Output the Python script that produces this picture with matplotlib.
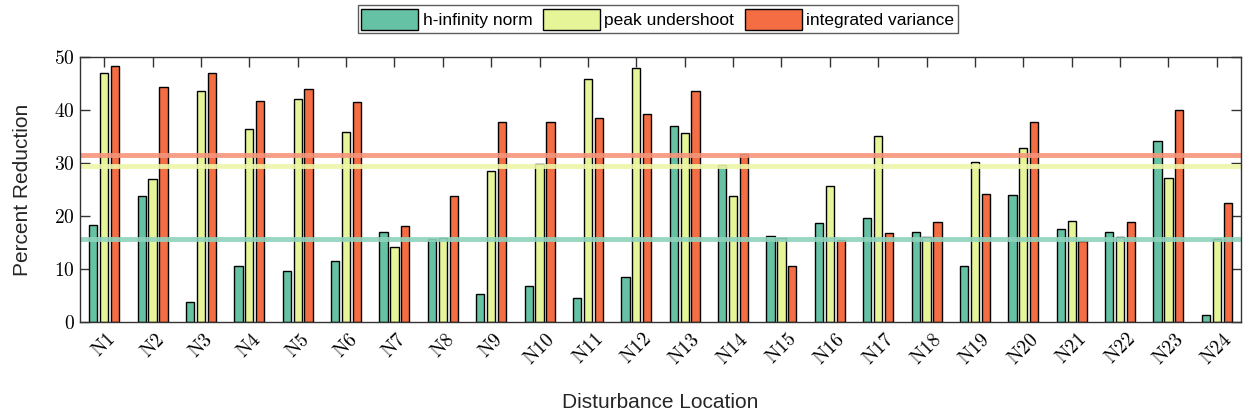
import numpy as np
import matplotlib
matplotlib.use("Agg")
import matplotlib.pyplot as plt
from matplotlib.ticker import FuncFormatter

plt.rcParams["font.family"] = ["Liberation Sans", "DejaVu Sans"]
plt.rcParams["mathtext.fontset"] = "cm"

# ── Data ─────────────────────────────────────────────────────
locations = [f"N{i}" for i in range(1, 25)]
hinf = [18.3, 23.7, 3.7, 10.6, 9.7, 11.5, 17.0, 15.7, 5.3, 6.8, 4.6, 8.4,
        37.0, 29.6, 16.3, 18.6, 19.7, 17.0, 10.6, 23.9, 17.5, 17.0, 34.1, 1.3]
peak = [47.0, 27.0, 43.5, 36.4, 42.0, 35.9, 14.2, 15.9, 28.4, 29.9, 45.9, 47.9,
        35.7, 23.7, 15.9, 25.7, 35.1, 16.1, 30.1, 32.8, 19.0, 16.1, 27.2, 15.7]
intvar = [48.3, 44.3, 46.9, 41.7, 43.9, 41.5, 18.2, 23.7, 37.7, 37.7, 38.4, 39.3,
          43.5, 31.7, 10.6, 15.5, 16.8, 18.8, 24.2, 37.7, 15.3, 18.8, 40.0, 22.4]
series_names = ["h-infinity norm", "peak undershoot", "integrated variance"]
colors = ["#66c2a5", "#e6f598", "#f46d43"]
line_colors = ["#8fd3bd", "#eef5a8", "#f7957a"]

# ── Plot ──────────────────────────────────────────────────────
fig = plt.figure(figsize=(12.48, 4.16), dpi=100)
ax = fig.add_axes([0.0641, 0.226, 0.9303, 0.637])

x = np.arange(1, len(locations) + 1)
offsets = [-0.225, 0.0, 0.225]
handles = []
for vals, off, col, name in zip([hinf, peak, intvar], offsets, colors, series_names):
    h = ax.bar(x + off, vals, width=0.17, color=col, edgecolor="black",
               linewidth=1.0, label=name, zorder=2)
    handles.append(h)

# mean of each series as a horizontal reference line
for vals, lc in zip([hinf, peak, intvar], line_colors):
    ax.axhline(np.mean(vals), color=lc, linewidth=3.5, alpha=0.9, zorder=3)

ax.set_xlim(0.5, 24.5)
ax.set_ylim(0, 50)
ax.set_xticks(x)
ax.set_xticklabels([rf"$\mathrm{{{s}}}$" for s in locations],
                   rotation=45, fontsize=14)
ax.set_yticks(np.arange(0, 51, 10))
ax.yaxis.set_major_formatter(FuncFormatter(lambda v, p: rf"$\mathrm{{{int(v)}}}$"))
ax.tick_params(axis="y", labelsize=14)
ax.tick_params(direction="in", length=7, width=1.0, color="#333333",
               top=True, right=True, zorder=4)
ax.tick_params(axis="x", pad=6)
for lbl in ax.get_xticklabels():
    lbl.set_horizontalalignment("center")
for sp in ax.spines.values():
    sp.set_color("#333333")
    sp.set_linewidth(1.0)
    sp.set_zorder(4)

ax.set_ylabel("Percent Reduction", fontsize=15, color="#262626", labelpad=16)
ax.set_xlabel("Disturbance Location", fontsize=15, color="#262626", labelpad=18)

fig.legend(handles=handles, labels=series_names, loc="upper center",
           bbox_to_anchor=(0.527, 1.0), ncol=3, fontsize=12.5, frameon=True,
           fancybox=False, edgecolor="#333333", handlelength=3.3,
           handleheight=1.5, handletextpad=0.25, columnspacing=0.6,
           borderpad=0.2, borderaxespad=0.3)

plt.savefig("out.png", dpi=100)
plt.close()
